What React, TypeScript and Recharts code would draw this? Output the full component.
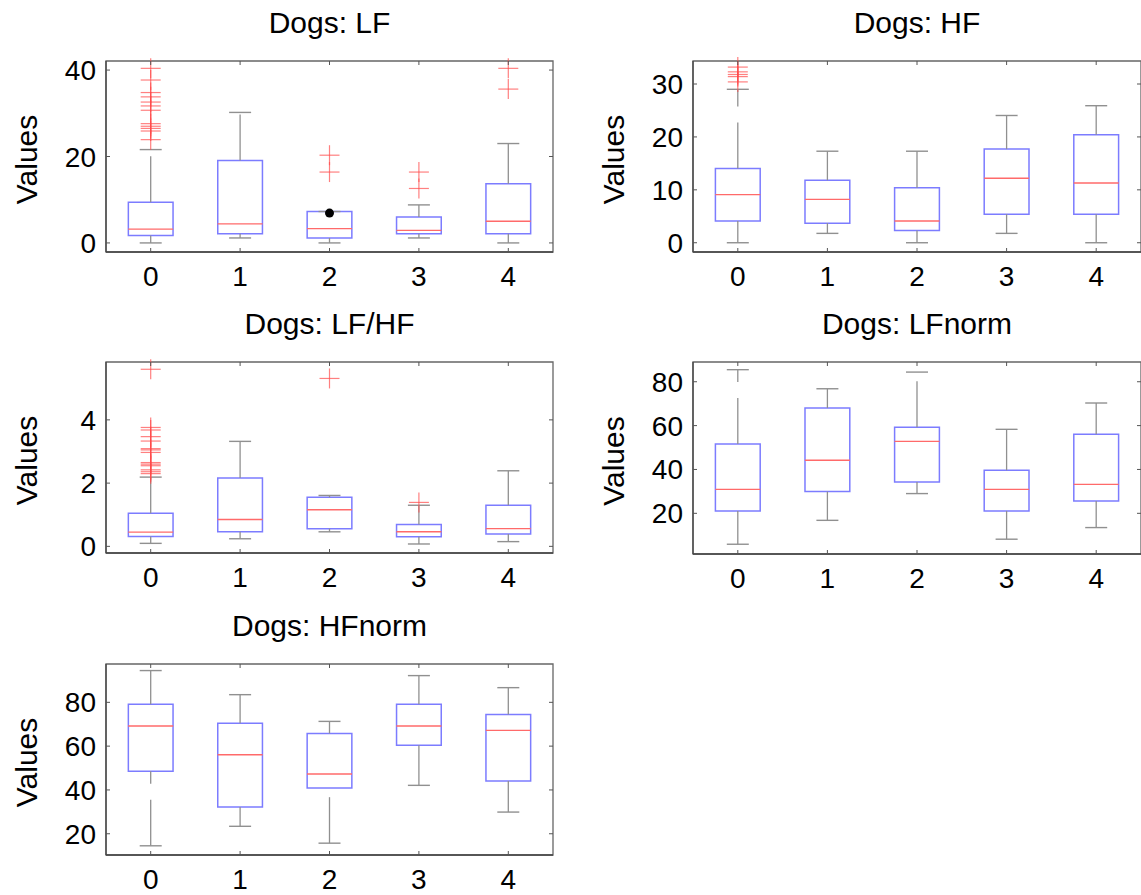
import React from "react";
import { ComposedChart, XAxis, YAxis, Scatter, ReferenceArea, ReferenceLine } from "recharts";

const groups = [0, 1, 2, 3, 4];

// Dogs: LF
const lfLow = [0, 1.15, 0, 1.15, 0];
const lfQ1 = [1.7, 2.1, 1.15, 2.1, 2.1];
const lfMed = [3.2, 4.4, 3.3, 2.9, 5.0];
const lfQ3 = [9.4, 19.1, 7.27, 6.0, 13.7];
const lfHigh = [21.6, 30.2, 7.27, 8.8, 23.0];
const lfOutliers = [
  [40.4, 37.7, 34.8, 33.8, 32.6, 31.7, 30.7, 27.6, 27.0, 26.5, 25.9, 23.9],
  [],
  [20.3, 16.4],
  [16.4, 12.6],
  [40.4, 35.6],
];
const lfDotGroup = [2];
const lfDotValue = [6.9];
const lfTicks = [0, 20, 40];

// Dogs: HF
const hfLow = [0, 1.77, 0, 1.77, 0];
const hfQ1 = [4.1, 3.7, 2.3, 5.4, 5.4];
const hfMed = [9.1, 8.2, 4.1, 12.2, 11.3];
const hfQ3 = [14.05, 11.8, 10.4, 17.7, 20.4];
const hfHigh = [29.0, 17.3, 17.3, 24.05, 25.9];
const hfOutliers = [[33.2, 32.3, 31.8, 31.4, 30.4], [], [], [], []];
const hfTicks = [0, 10, 20, 30];

// Dogs: LF/HF
const lfhfLow = [0.095, 0.24, 0.46, 0.075, 0.15];
const lfhfQ1 = [0.31, 0.46, 0.56, 0.3, 0.39];
const lfhfMed = [0.45, 0.85, 1.16, 0.46, 0.56];
const lfhfQ3 = [1.05, 2.16, 1.55, 0.69, 1.3];
const lfhfHigh = [2.19, 3.32, 1.61, 1.3, 2.39];
const lfhfOutliers = [
  [5.6, 3.76, 3.68, 3.47, 3.33, 3.09, 3.05, 2.97, 2.65, 2.6, 2.55, 2.42, 2.36, 2.3],
  [],
  [5.31],
  [1.39],
  [],
];
const lfhfTicks = [0, 2, 4];

// Dogs: LFnorm
const lfnLow = [5.9, 16.8, 29.0, 8.2, 13.5];
const lfnQ1 = [21.1, 29.9, 34.3, 21.1, 25.6];
const lfnMed = [30.9, 44.2, 52.8, 30.9, 33.2];
const lfnQ3 = [51.6, 68.0, 59.3, 39.6, 56.0];
const lfnHigh = [85.5, 76.8, 84.4, 58.3, 70.3];
const lfnTicks = [20, 40, 60, 80];

// Dogs: HFnorm
const hfnLow = [14.5, 23.4, 15.7, 42.1, 29.9];
const hfnQ1 = [48.5, 32.2, 40.9, 60.4, 44.1];
const hfnMed = [69.2, 56.1, 47.3, 69.2, 67.2];
const hfnQ3 = [79.1, 70.4, 65.8, 79.1, 74.5];
const hfnHigh = [94.5, 83.5, 71.3, 92.2, 86.7];
const hfnTicks = [20, 40, 60, 80];

const FONT = '"Liberation Sans", Arial, Helvetica, sans-serif';
const BOX_BLUE = "#7c7cff";
const MED_RED = "#ff6a6a";
const WHISK = "#909090";
const OUT_RED = "#ff4a4a";
const FRAME = "#555";
const HALF_BOX = 0.25;

type PanelProps = {
  title: string;
  left: number;
  top: number;
  right: number;
  bottom: number;
  domain: [number, number];
  ticks: number[];
  low: number[];
  q1: number[];
  med: number[];
  q3: number[];
  high: number[];
  outliers?: number[][];
  dotGroups?: number[];
  dotValues?: number[];
};

const Cross = (props: any) => {
  const { cx, cy } = props;
  if (cx == null || cy == null) return null;
  return (
    <g stroke={OUT_RED} strokeOpacity={0.7} strokeWidth={1.2}>
      <line x1={cx - 10} x2={cx + 10} y1={cy} y2={cy} />
      <line x1={cx} x2={cx} y1={cy - 10} y2={cy + 10} />
    </g>
  );
};

const Cap = (props: any) => {
  const { cx, cy } = props;
  if (cx == null || cy == null) return null;
  return <line x1={cx - 11} x2={cx + 11} y1={cy} y2={cy} stroke={WHISK} strokeWidth={1.4} />;
};

const MedianMark = (props: any) => {
  const { cx, cy } = props;
  if (cx == null || cy == null) return null;
  return <line x1={cx - 22.5} x2={cx + 22.5} y1={cy} y2={cy} stroke={MED_RED} strokeWidth={1.4} />;
};

const Dot = (props: any) => {
  const { cx, cy } = props;
  if (cx == null || cy == null) return null;
  return <circle cx={cx} cy={cy} r={4.5} fill="#000" />;
};

function BoxPanel(p: PanelProps) {
  const AX = 100;
  const MT = 10;
  const XH = 45;
  const plotW = p.right - p.left;
  const plotH = p.bottom - p.top;
  const rows = groups.map((g, i) => ({
    x: g, low: p.low[i], q1: p.q1[i], med: p.med[i], q3: p.q3[i], high: p.high[i],
  }));
  const outPts = (p.outliers || []).flatMap((vals, i) => vals.map((v) => ({ x: groups[i], y: v })));
  const dotPts = (p.dotGroups || []).map((g, i) => ({ x: g, y: (p.dotValues || [])[i] }));

  const xTick = (t: any) => {
    const { x, y, payload } = t;
    return (
      <g>
        <line x1={x} x2={x} y1={y} y2={y - 4} stroke={FRAME} />
        <line x1={x} x2={x} y1={y - plotH} y2={y - plotH + 4} stroke={FRAME} />
        <text x={x} y={y + 34} textAnchor="middle" fontSize={28} fontFamily={FONT} fill="#000">
          {payload.value}
        </text>
      </g>
    );
  };
  const yTick = (t: any) => {
    const { x, y, payload } = t;
    return (
      <g>
        <line x1={x} x2={x + 4} y1={y} y2={y} stroke={FRAME} />
        <line x1={x + plotW - 4} x2={x + plotW} y1={y} y2={y} stroke={FRAME} />
        <text x={x - 10} y={y + 10} textAnchor="end" fontSize={28} fontFamily={FONT} fill="#000">
          {payload.value}
        </text>
      </g>
    );
  };

  return (
    <div style={{ position: "absolute", left: p.left - AX, top: p.top - MT }}>
      <ComposedChart
        width={plotW + AX + 2}
        height={plotH + MT + XH}
        margin={{ top: MT, right: 2, bottom: 0, left: 0 }}
        data={rows}
      >
        <XAxis
          type="number" dataKey="x" domain={[-0.5, 4.5]} ticks={groups} interval={0}
          tickSize={0} tickMargin={0} height={XH} axisLine={{ stroke: "#444", strokeWidth: 1.3 }}
          tick={xTick}
        />
        <YAxis
          type="number" domain={p.domain} ticks={p.ticks} interval={0}
          tickSize={0} tickMargin={0} width={AX} axisLine={{ stroke: "#444", strokeWidth: 1.3 }}
          tick={yTick}
        />
        <ReferenceArea
          x1={-0.5} x2={4.5} y1={p.domain[0]} y2={p.domain[1]}
          fill="none" fillOpacity={0} stroke="#666" strokeWidth={1.3}
        />
        {rows.map((r) => (
          <ReferenceLine
            key={`wu${r.x}`} segment={[{ x: r.x, y: r.q3 }, { x: r.x, y: r.high }]}
            stroke={WHISK} strokeWidth={1.3} strokeDasharray="46 16"
          />
        ))}
        {rows.map((r) => (
          <ReferenceLine
            key={`wl${r.x}`} segment={[{ x: r.x, y: r.low }, { x: r.x, y: r.q1 }]}
            stroke={WHISK} strokeWidth={1.3} strokeDasharray="46 16"
          />
        ))}
        <Scatter data={rows} dataKey="high" shape={Cap} isAnimationActive={false} />
        <Scatter data={rows} dataKey="low" shape={Cap} isAnimationActive={false} />
        {rows.map((r) => (
          <ReferenceArea
            key={`b${r.x}`} x1={r.x - HALF_BOX} x2={r.x + HALF_BOX} y1={r.q1} y2={r.q3}
            fill="none" fillOpacity={0} stroke={BOX_BLUE} strokeWidth={1.5}
          />
        ))}
        <Scatter data={rows} dataKey="med" shape={MedianMark} isAnimationActive={false} />
        <Scatter data={outPts} dataKey="y" shape={Cross} isAnimationActive={false} />
        <Scatter data={dotPts} dataKey="y" shape={Dot} isAnimationActive={false} />
      </ComposedChart>
    </div>
  );
}

const panels: PanelProps[] = [
  { title: "Dogs: LF", left: 106, top: 61, right: 553, bottom: 252, domain: [-2.1, 42.1], ticks: lfTicks,
    low: lfLow, q1: lfQ1, med: lfMed, q3: lfQ3, high: lfHigh, outliers: lfOutliers,
    dotGroups: lfDotGroup, dotValues: lfDotValue },
  { title: "Dogs: HF", left: 693, top: 61, right: 1141, bottom: 252, domain: [-1.75, 34.35], ticks: hfTicks,
    low: hfLow, q1: hfQ1, med: hfMed, q3: hfQ3, high: hfHigh, outliers: hfOutliers },
  { title: "Dogs: LF/HF", left: 106, top: 362, right: 553, bottom: 553, domain: [-0.21, 5.83], ticks: lfhfTicks,
    low: lfhfLow, q1: lfhfQ1, med: lfhfMed, q3: lfhfQ3, high: lfhfHigh, outliers: lfhfOutliers },
  { title: "Dogs: LFnorm", left: 693, top: 362, right: 1141, bottom: 554, domain: [1.45, 89.0], ticks: lfnTicks,
    low: lfnLow, q1: lfnQ1, med: lfnMed, q3: lfnQ3, high: lfnHigh },
  { title: "Dogs: HFnorm", left: 106, top: 664, right: 553, bottom: 855, domain: [10.3, 97.5], ticks: hfnTicks,
    low: hfnLow, q1: hfnQ1, med: hfnMed, q3: hfnQ3, high: hfnHigh },
];

export default function App() {
  return (
    <div style={{ position: "absolute", left: 0, top: 0, width: 1141, height: 895, overflow: "hidden", background: "#fff" }}>
      {panels.map((p) => (
        <BoxPanel key={p.title} {...p} />
      ))}
      <svg width={1141} height={895} style={{ position: "absolute", left: 0, top: 0, pointerEvents: "none" }}>
        {panels.map((p) => {
          const cy = (p.top + p.bottom) / 2 + 3;
          const lx = p.left - 69;
          return (
            <g key={p.title} fontFamily={FONT} fill="#000">
              <text x={(p.left + p.right) / 2} y={p.top - 28} textAnchor="middle" fontSize={30}>
                {p.title}
              </text>
              <text x={lx} y={cy} textAnchor="middle" fontSize={30} transform={`rotate(-90 ${lx} ${cy})`}>
                Values
              </text>
            </g>
          );
        })}
      </svg>
    </div>
  );
}
